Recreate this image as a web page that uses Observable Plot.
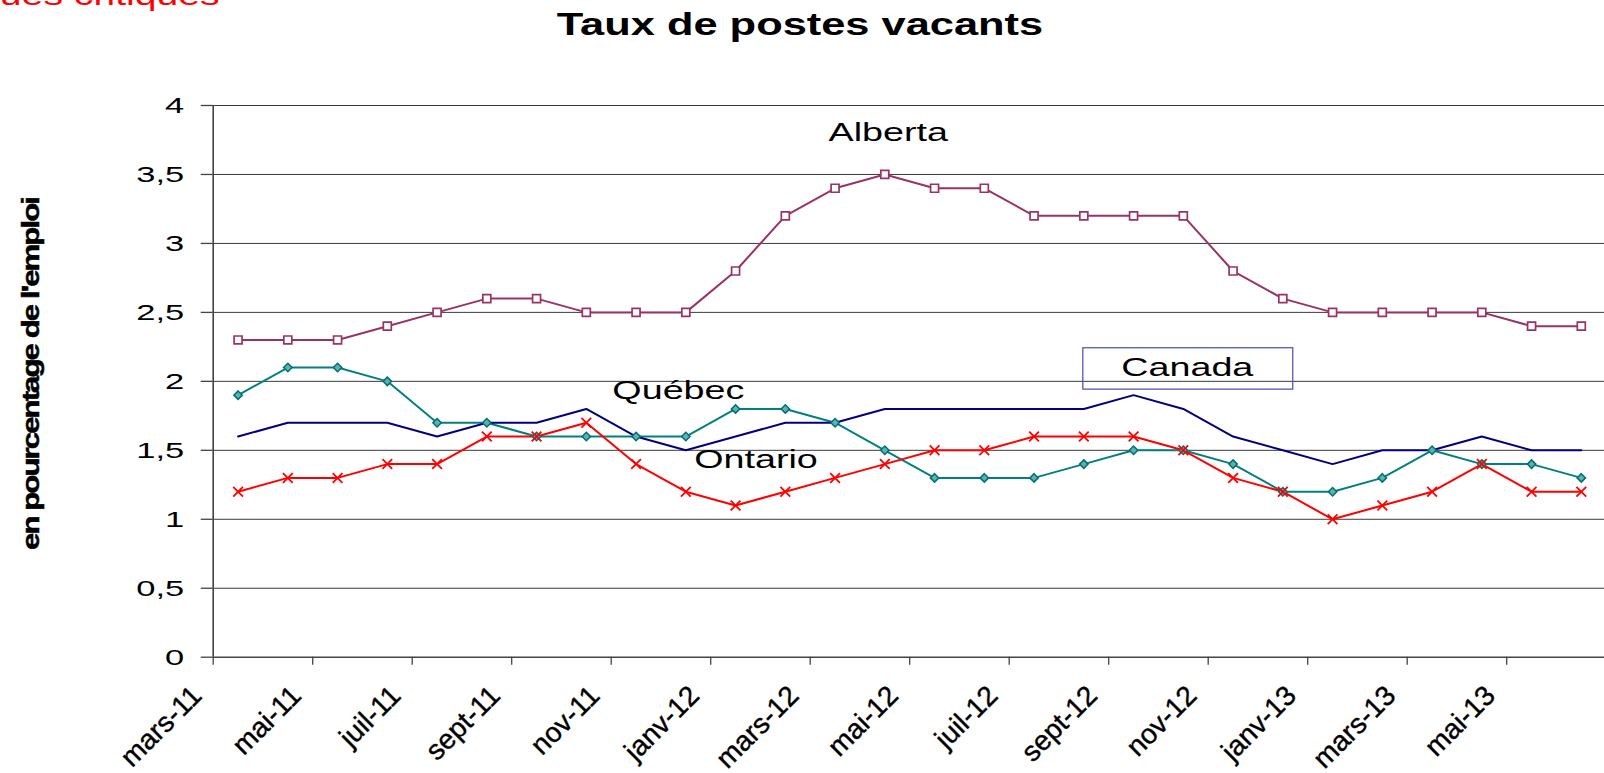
<!DOCTYPE html>
<html>
<head>
<meta charset="utf-8">
<script src="https://cdn.jsdelivr.net/npm/d3@7"></script>
<script src="https://cdn.jsdelivr.net/npm/@observablehq/plot@0.6"></script>
<style>
html, body { margin: 0; padding: 0; background: #fff; overflow: hidden; }
#wrap { position: relative; width: 1604px; height: 773px; font-family: "Liberation Sans", Arial, sans-serif; overflow: hidden; }
#wrap svg { position: absolute; left: 0; top: 0; }
#title { position: absolute; left: 800px; top: 9px; transform: translateX(-50%) scaleX(1.4); font-weight: bold; font-size: 31px; line-height: 1; white-space: nowrap; color: #000; }
#note { position: absolute; right: 1384px; top: -17px; transform-origin: right center; transform: scaleX(1.45); font-size: 27px; line-height: 1; white-space: nowrap; color: #ff0000; }
#ytitle { position: absolute; left: 31px; top: 374px; transform: translate(-50%, -50%) rotate(-90deg) scaleX(1.3); font-weight: bold; font-size: 24px; letter-spacing: -1.5px; line-height: 1; white-space: nowrap; color: #000; -webkit-text-stroke: 0.5px #000; }
</style>
</head>
<body>
<div id="wrap">
  <div id="note">Statistiques critiques</div>
  <div id="title">Taux de postes vacants</div>
  <div id="ytitle">en pourcentage de l'emploi</div>
</div>
<script>
// Months (categories), March 2011 to June 2013
const months = ["mars-11","avr-11","mai-11","juin-11","juil-11","août-11","sept-11","oct-11","nov-11","déc-11",
  "janv-12","févr-12","mars-12","avr-12","mai-12","juin-12","juil-12","août-12","sept-12","oct-12","nov-12","déc-12",
  "janv-13","févr-13","mars-13","avr-13","mai-13","juin-13"];
// Tick labels shown on the axis (every second month)
const tickLabels = ["mars-11","mai-11","juil-11","sept-11","nov-11","janv-12","mars-12","mai-12","juil-12","sept-12","nov-12","janv-13","mars-13","mai-13"];
const yTicks = [0, 0.5, 1, 1.5, 2, 2.5, 3, 3.5, 4];

// Series values (%)
const alberta = [2.3,2.3,2.3,2.4,2.5,2.6,2.6,2.5,2.5,2.5,2.8,3.2,3.4,3.5,3.4,3.4,3.2,3.2,3.2,3.2,2.8,2.6,2.5,2.5,2.5,2.5,2.4,2.4];
const quebec  = [1.9,2.1,2.1,2.0,1.7,1.7,1.6,1.6,1.6,1.6,1.8,1.8,1.7,1.5,1.3,1.3,1.3,1.4,1.5,1.5,1.4,1.2,1.2,1.3,1.5,1.4,1.4,1.3];
const canada  = [1.6,1.7,1.7,1.7,1.6,1.7,1.7,1.8,1.6,1.5,1.6,1.7,1.7,1.8,1.8,1.8,1.8,1.8,1.9,1.8,1.6,1.5,1.4,1.5,1.5,1.6,1.5,1.5];
const ontario = [1.2,1.3,1.3,1.4,1.4,1.6,1.6,1.7,1.4,1.2,1.1,1.2,1.3,1.4,1.5,1.5,1.6,1.6,1.6,1.5,1.3,1.2,1.0,1.1,1.2,1.4,1.2,1.2];

// Series labels placed in the chart
const seriesNames = ["Alberta", "Québec", "Ontario", "Canada"];

const rows = (vals) => months.map((m, i) => ({month: m, i: i + 0.5, v: vals[i]}));
const A = rows(alberta), Q = rows(quebec), C = rows(canada), O = rows(ontario);
const tickPos = tickLabels.map((d, k) => k * 2);
const fr = d => String(d).replace(".", ",");

const annX = [13.57, 9.35, 10.91, 19.58];
const annY = [3.80, 1.93, 1.43, 2.10];
const ann = seriesNames.map((s, k) => ({label: s, x: annX[k], y: annY[k]}));

const chart = Plot.plot({
  width: 1604,
  height: 773,
  marginLeft: 212.7,
  marginRight: 0,
  marginTop: 105,
  marginBottom: 116.3,
  style: {background: "transparent", fontFamily: "Liberation Sans, Arial, sans-serif", color: "#000"},
  x: {type: "linear", domain: [0, 27.966]},
  y: {domain: [0, 4]},
  marks: [
    Plot.ruleY(yTicks.filter(d => d > 0), {stroke: "#3a3a3a", strokeWidth: 1}),
    Plot.ruleY([0], {stroke: "#444", strokeWidth: 1.6}),
    Plot.ruleX([0], {stroke: "#444", strokeWidth: 1.6}),
    Plot.axisY({ticks: yTicks, tickSize: 12, tickPadding: 17, tickFormat: fr, fontSize: 23, label: null, stroke: "#444", strokeWidth: 1.3}),
    Plot.axisX({ticks: tickPos, tickSize: 8, tickFormat: () => "", label: null, stroke: "#444", strokeWidth: 1.3}),
    Plot.text(tickLabels, {x: (d, k) => k * 2, frameAnchor: "bottom", text: d => d, rotate: -45, textAnchor: "end", lineAnchor: "bottom", dx: -10, dy: 40, fontSize: 28, fill: "#000", stroke: "#000", strokeWidth: 0.4}),
    Plot.rect([0], {x1: 17.49, x2: 21.71, y1: 1.94, y2: 2.24, fill: "none", stroke: "#4a4ab0", strokeWidth: 1.2}),
    Plot.line(A, {x: "i", y: "v", stroke: "#993366", strokeWidth: 2}),
    Plot.line(Q, {x: "i", y: "v", stroke: "#008080", strokeWidth: 2}),
    Plot.line(C, {x: "i", y: "v", stroke: "#000080", strokeWidth: 2}),
    Plot.line(O, {x: "i", y: "v", stroke: "#ff0000", strokeWidth: 2}),
    Plot.dot(A, {x: "i", y: "v", symbol: "square", r: 4.5, stroke: "#993366", fill: "#fff", strokeWidth: 1.7}),
    Plot.dot(Q, {x: "i", y: "v", symbol: "diamond2", r: 3.8, stroke: "#007070", fill: "#5fb0b0", strokeWidth: 1.5}),
    Plot.dot(O, {x: "i", y: "v", symbol: "times", r: 4.5, stroke: "#ff0000", strokeWidth: 1.8}),
    Plot.text(ann, {x: "x", y: "y", text: "label", fontSize: 26, fill: "#000", textAnchor: "middle", lineAnchor: "middle"})
  ]
});

function stretch(sel, s) {
  sel.each(function () {
    const x = parseFloat(this.getAttribute("x")) || 0;
    const t = this.getAttribute("transform") || "";
    this.setAttribute("transform", `${t} translate(${x},0) scale(${s},1) translate(${-x},0)`);
  });
}
document.getElementById("wrap").appendChild(chart);
stretch(d3.select(chart).selectAll('g[aria-label="y-axis tick label"] text'), 1.5);
stretch(d3.select(chart).selectAll("text").filter(function () { return seriesNames.includes(this.textContent); }), 1.45);
</script>
</body>
</html>
